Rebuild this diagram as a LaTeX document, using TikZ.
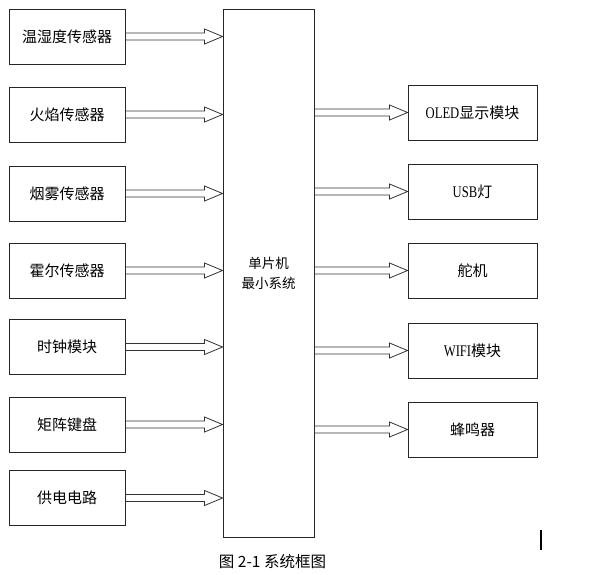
\documentclass[tikz,border=0pt]{standalone}
\usepackage{fontspec}
\setmainfont{Noto Sans CJK SC}
\newfontfamily\latmono[Scale=1.08,FakeStretch=0.78]{Liberation Serif}
\usetikzlibrary{calc}
\tikzset{
  blk/.style={draw=black!85, line width=0.9pt, minimum width=116pt, minimum height=55pt, inner sep=0pt, font=\fontsize{15}{17}\selectfont},
  rblk/.style={blk, minimum width=129pt},
  hollow/.style={draw=black!80, line width=0.8pt, to path={
    let \p1=(\tikztostart), \p2=(\tikztotarget) in
    (\x1,\y1+3.5pt) -- (\x2-18pt,\y1+3.5pt) -- (\x2-18pt,\y1+7.5pt) -- (\x2,\y1)
    -- (\x2-18pt,\y1-7.5pt) -- (\x2-18pt,\y1-3.5pt) -- (\x1,\y1-3.5pt)}},
}
\begin{document}
\begin{tikzpicture}[x=1pt,y=-1pt]
\useasboundingbox (0,0) rectangle (594,574);
% left blocks
\node[blk] (s1) at (67,36.5) {温湿度传感器};
\node[blk] (s2) at (67,114.5) {火焰传感器};
\node[blk] (s3) at (67,193.5) {烟雾传感器};
\node[blk] (s4) at (67,270.5) {霍尔传感器};
\node[blk] (s5) at (67,347) {时钟模块};
\node[blk] (s6) at (67,424.5) {矩阵键盘};
\node[blk] (s7) at (67,498) {供电电路};
% MCU
\node[draw=black!85, line width=0.9pt, minimum width=91pt, minimum height=528pt, inner sep=0pt,
      align=center, font=\fontsize{13.5}{20}\selectfont] (mcu) at (268.5,273) {单片机\\最小系统};
% right blocks
\node[rblk] (o1) at (472.5,112.5) {{\latmono OLED}显示模块};
\node[rblk] (o2) at (472.5,191.5) {{\latmono USB}灯};
\node[rblk] (o3) at (472.5,270.5) {舵机};
\node[rblk] (o4) at (472.5,350.5) {{\latmono WIFI}模块};
\node[rblk] (o5) at (472.5,429.5) {蜂鸣器};
% arrows in
\foreach \s in {s1,s2,s3,s4,s5,s6,s7}
  \draw[hollow] (\s.east) to (mcu.west |- \s.east);
% arrows out
\foreach \o in {o1,o2,o3,o4,o5}
  \draw[hollow] (mcu.east |- \o.west) to (\o.west);
% cursor mark
\coordinate (c1) at (541,530);
\coordinate (c2) at (541,550);
\draw[line width=1.6pt] (c1) -- (c2);
% caption
\node[font=\fontsize{15.5}{17}\selectfont] (cap) at (272.5,562) {图 2-1 系统框图};
\end{tikzpicture}
\end{document}
